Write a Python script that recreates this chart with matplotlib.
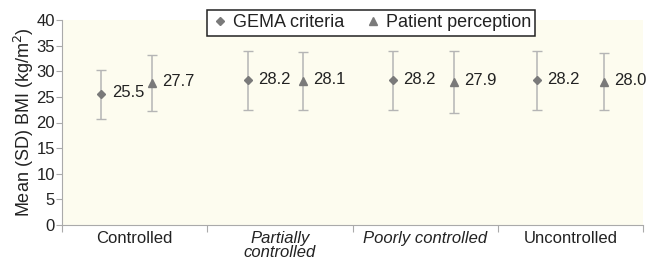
import matplotlib
matplotlib.use("Agg")
import matplotlib.pyplot as plt
from matplotlib.lines import Line2D
import numpy as np

categories = ["Controlled", "Partially\ncontrolled", "Poorly controlled", "Uncontrolled"]
italic_cats = [False, True, True, False]
gema_mean = [25.5, 28.2, 28.2, 28.2]
gema_sd = [4.8, 5.7, 5.7, 5.7]
patient_mean = [27.7, 28.1, 27.9, 28.0]
patient_sd = [5.5, 5.6, 6.1, 5.6]
yticks = [0, 5, 10, 15, 20, 25, 30, 35, 40]

# layout offsets (fraction of a category width, relative to category centre)
gema_off = [-0.23, -0.22, -0.22, -0.23]
pat_off = [0.12, 0.16, 0.20, 0.23]

plt.rcParams['font.family'] = ['Liberation Sans', 'DejaVu Sans']
fig = plt.figure(figsize=(6.51, 2.59), dpi=100)
ax = fig.add_axes([62/651, 1-225/259, (643-62)/651, (225-20)/259])
ax.set_facecolor('#fdfcef')

x = np.arange(len(categories))
xg = x + np.array(gema_off)
xp = x + np.array(pat_off)

mcol = '#7a7a7a'
ecol = '#b5b5b5'
ax.errorbar(xg, gema_mean, yerr=gema_sd, fmt='D', ms=4.2, color=mcol,
            ecolor=ecol, elinewidth=1.1, capsize=3.5, capthick=1.0, zorder=3)
ax.errorbar(xp, patient_mean, yerr=patient_sd, fmt='^', ms=5.8, color=mcol,
            ecolor=ecol, elinewidth=1.1, capsize=3.5, capthick=1.0, zorder=3)

for xi, v in zip(xg, gema_mean):
    ax.annotate(f"{v:.1f}", (xi, v), xytext=(7.5, 1), textcoords='offset points',
                ha='left', va='center', fontsize=12, color='#222222')
for xi, v in zip(xp, patient_mean):
    ax.annotate(f"{v:.1f}", (xi, v), xytext=(7.5, 1), textcoords='offset points',
                ha='left', va='center', fontsize=12, color='#222222')

ax.set_xlim(-0.5, len(categories) - 0.5)
ax.set_ylim(0, 40)
ax.set_yticks(yticks)
ax.tick_params(axis='y', labelsize=12, colors='#222222', length=4, width=0.8, color='#aaaaaa', pad=1)
ax.set_xticks(x)
ax.set_xticklabels(categories, fontsize=12, linespacing=0.95)
for lab, it in zip(ax.get_xticklabels(), italic_cats):
    lab.set_color('#222222')
    if it:
        lab.set_style('italic')
ax.tick_params(axis='x', which='major', length=0, pad=4)
ax.set_xticks(np.arange(len(categories) + 1) - 0.5, minor=True)
ax.tick_params(axis='x', which='minor', length=5, width=0.8, color='#aaaaaa')

for s in ['top', 'right']:
    ax.spines[s].set_visible(False)
for s in ['left', 'bottom']:
    ax.spines[s].set_color('#aaaaaa')
    ax.spines[s].set_linewidth(0.8)

ax.set_ylabel("Mean (SD) BMI (kg/m$^2$)", fontsize=13, color='#222222', labelpad=0)

handles = [Line2D([], [], marker='D', ms=4.5, color=mcol, ls='none'),
           Line2D([], [], marker='^', ms=6, color=mcol, ls='none')]
leg = ax.legend(handles, ['GEMA criteria', 'Patient perception'],
                loc='upper center', bbox_to_anchor=(0.532, 1.049), ncol=2, frameon=True,
                fancybox=False, edgecolor='#222222', fontsize=13, handletextpad=0.2,
                columnspacing=1.1, borderpad=0.25, handlelength=1.0, borderaxespad=0)
leg.get_frame().set_linewidth(1.1)
leg.get_frame().set_facecolor('white')
leg.get_frame().set_alpha(1.0)
for t in leg.get_texts():
    t.set_color('#222222')

fig.savefig("out.png", dpi=100)
